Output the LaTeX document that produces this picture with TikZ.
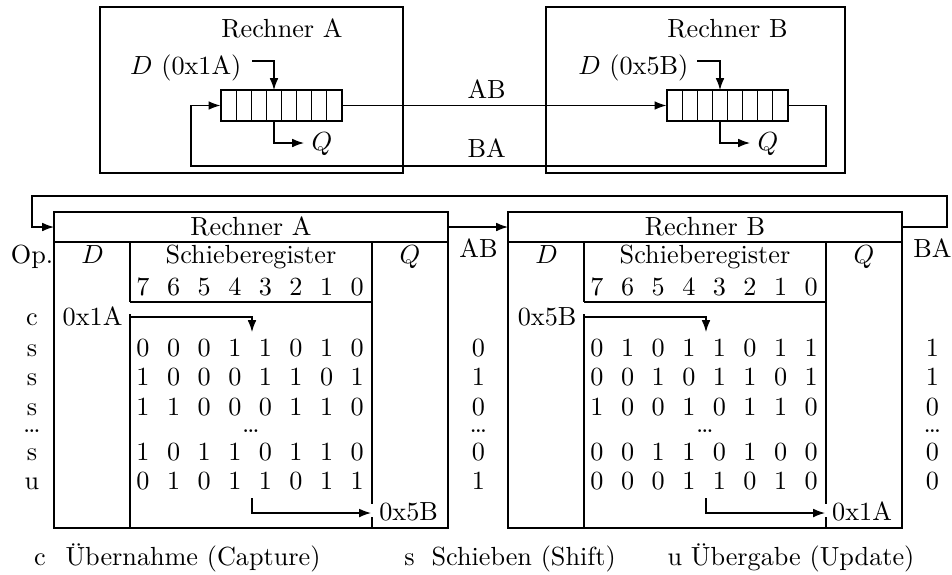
\documentclass[tikz,border=0pt]{standalone}
\usetikzlibrary{arrows.meta}
\tikzset{
  arr/.style={-{Latex[length=4.5pt,width=3.3pt]}},
  txt/.style={inner sep=0pt, anchor=base},
  frame/.style={line width=1pt},
  reg/.style={draw, inner sep=0pt, minimum width=46.19pt, minimum height=11.83pt},
}
\newcommand{\bittable}[7]{%
  % #1 prefix, #2 title, #3 D value, #4 Q value, #5 side label, #6 rows, #7 shift
  \begin{scope}[shift={(#7,0)}]
    \draw (54,212) rectangle (448,242);
    \coordinate (#1hw) at (54,227);
    \coordinate (#1he) at (448,227);
    \node[txt] (#1title) at (251,235) {#2};
    \draw (54,242) -- (54,528) -- (448,528) -- (448,242);
    \draw (130,242) -- (130,302);
    \draw (130,314) -- (130,528);
    \draw (372,242) -- (372,504);
    \draw (372,517) -- (372,528);
    \draw (130,302) -- (372,302);
    \node[txt] (#1D) at (92.5,263) {$D$};
    \node[txt] (#1sr) at (251,263) {Schieberegister};
    \node[txt] (#1Q) at (410,263) {$Q$};
    \node[txt] (#1side) at (478.5,257) {#5};
    \foreach \lab [count=\i from 0] in {7,6,5,4,3,2,1,0}
      \node[txt] (#1h\i) at (143+30.6*\i,295) {\lab};
    \node[txt, anchor=base east] (#1Dval) at (123,325) {#3};
    \coordinate (#1cin) at (130,317);
    \coordinate (#1cout) at (252,332);
    \draw[arr] (#1cin) -| (#1cout);
    \foreach \y/\bits/\sv [count=\r] in {#6} {
      \foreach \b [count=\i from 0] in \bits
        \node[txt] (#1r\r c\i) at (143+30.6*\i,\y) {\b};
      \node[txt] (#1s\r) at (478.5,\y) {\sv};
    }
    \node[txt] (#1dots) at (251,432) {\dots};
    \node[txt] (#1sdots) at (478.5,432) {\dots};
    \coordinate (#1uin) at (252,498);
    \coordinate (#1uout) at (371,513);
    \draw[arr] (#1uin) |- (#1uout);
    \node[txt, anchor=base east] (#1Qval) at (438.5,520) {#4};
  \end{scope}
}
\begin{document}
\begin{tikzpicture}[x=0.3817pt, y=-0.3817pt, line width=0.45pt]
\useasboundingbox (0,0) rectangle (952,574);

% ---------- top: two computers ----------
\draw[frame] (100,7) rectangle (403,173);
\draw[frame] (546,7) rectangle (845,173);
\node[txt] (rechA) at (282,37) {Rechner A};
\node[txt] (rechB) at (727.5,37) {Rechner B};

\node[reg] (regA) at (281.5,105.5) {};
\node[reg] (regB) at (727.5,105.5) {};
\foreach \i in {1,...,7} {
  \draw (221+15.125*\i,90) -- (221+15.125*\i,121);
  \draw (667+15.125*\i,90) -- (667+15.125*\i,121);
}

\node[txt, anchor=base east] (dA) at (242,74) {$D$ (0x1A)};
\node[txt, anchor=base east] (dB) at (689,74) {$D$ (0x5B)};
\coordinate (dAs) at (252,61);
\coordinate (dAe) at (274,90);
\coordinate (dBs) at (697,61);
\coordinate (dBe) at (720,90);
\draw[arr] (dAs) -| (dAe);
\draw[arr] (dBs) -| (dBe);

\coordinate (qAs) at (274,121);
\coordinate (qAe) at (304,143);
\coordinate (qBs) at (720,121);
\coordinate (qBe) at (750,143);
\draw[arr] (qAs) |- (qAe);
\draw[arr] (qBs) |- (qBe);
\node[txt, anchor=base west] (qA) at (311,150) {$Q$};
\node[txt, anchor=base west] (qB) at (757,150) {$Q$};

\draw[arr] (regA.east) -- (regB.west);
\draw[arr] (regB.east) -- (826,105.5) -- (826,166) -- (191,166) -- (191,105.5) -- (regA.west);
\node[txt, anchor=base west] (labAB) at (467,98) {AB};
\node[txt, anchor=base west] (labBA) at (467,157) {BA};

% ---------- bottom: tables ----------
\node[txt] (op) at (32,263) {Op.};
\foreach \y/\o [count=\k] in {325/c,356/s,385/s,415/s,460/s,489/u}
  \node[txt] (op\k) at (32,\y) {\o};
\node[txt] (opdots) at (32,432) {\dots};

\bittable{A}{Rechner A}{0x1A}{0x5B}{AB}{%
  356/{0,0,0,1,1,0,1,0}/0,
  385/{1,0,0,0,1,1,0,1}/1,
  415/{1,1,0,0,0,1,1,0}/0,
  460/{1,0,1,1,0,1,1,0}/0,
  489/{0,1,0,1,1,0,1,1}/1}{0}
\bittable{B}{Rechner B}{0x5B}{0x1A}{BA}{%
  356/{0,1,0,1,1,0,1,1}/1,
  385/{0,0,1,0,1,1,0,1}/1,
  415/{1,0,0,1,0,1,1,0}/0,
  460/{0,0,1,1,0,1,0,0}/0,
  489/{0,0,0,1,1,0,1,0}/0}{454}

\draw[arr] (Ahe) -- (Bhw);
\draw[arr] (Bhe) -- (947,227) -- (947,196) -- (32,196) -- (32,227) -- (Ahw);

% ---------- legend ----------
\node[txt] (lc) at (40,565) {c};
\node[txt, anchor=base west] (lcap) at (65,565) {Übernahme (Capture)};
\node[txt] (ls) at (409.5,565) {s};
\node[txt, anchor=base west] (lshift) at (431,565) {Schieben (Shift)};
\node[txt, anchor=base west] (lupd) at (667,565) {u Übergabe (Update)};
\end{tikzpicture}
\end{document}
